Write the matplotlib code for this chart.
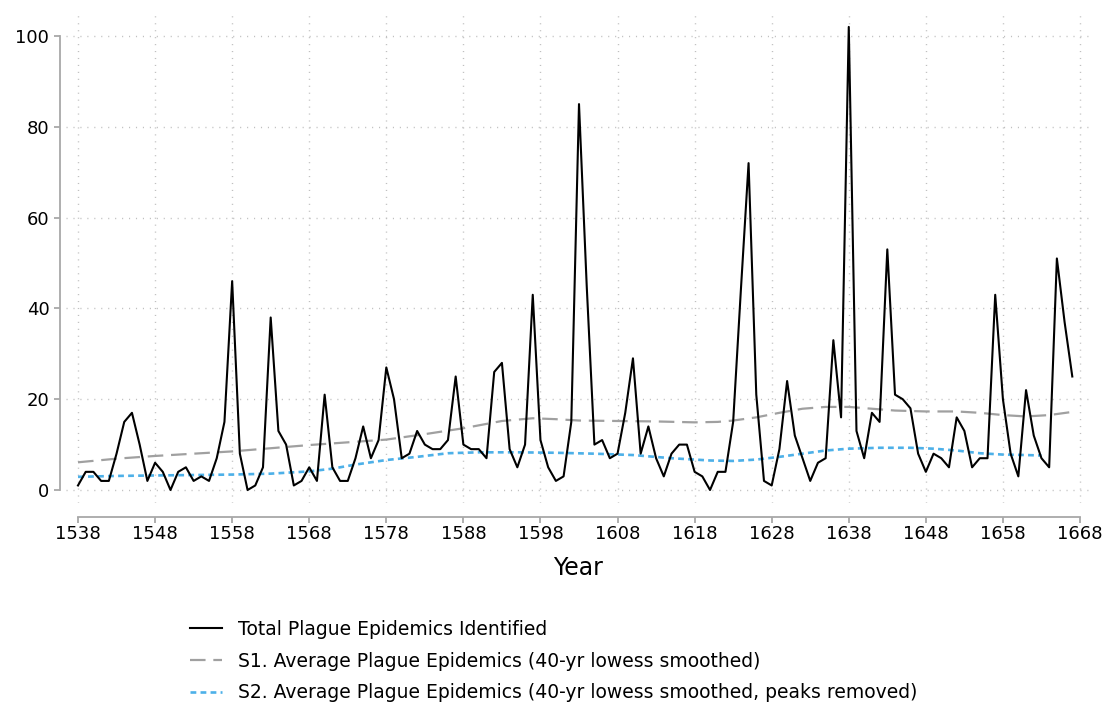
import numpy as np
import matplotlib
matplotlib.use('Agg')
import matplotlib.pyplot as plt

plt.rcParams['font.family'] = ['DejaVu Sans']

# ---- data ----
years = np.arange(1538, 1668)
total = [1, 4, 4, 2, 2, 8, 15, 17, 10, 2,
         6, 4, 0, 4, 5, 2, 3, 2, 7, 15,
         46, 8, 0, 1, 5, 38, 13, 10, 1, 2,
         5, 2, 21, 5, 2, 2, 7, 14, 7, 11,
         27, 20, 7, 8, 13, 10, 9, 9, 11, 25,
         10, 9, 9, 7, 26, 28, 9, 5, 10, 43,
         11, 5, 2, 3, 15, 85, 45, 10, 11, 7,
         8, 17, 29, 8, 14, 7, 3, 8, 10, 10,
         4, 3, 0, 4, 4, 15, 44, 72, 21, 2,
         1, 9, 24, 12, 7, 2, 6, 7, 33, 16,
         102, 13, 7, 17, 15, 53, 21, 20, 18, 8,
         4, 8, 7, 5, 16, 13, 5, 7, 7, 43,
         20, 8, 3, 22, 12, 7, 5, 51, 37, 25]

s1_years = [1538, 1543, 1548, 1553, 1558, 1563, 1568, 1573, 1578, 1583,
            1588, 1593, 1597, 1600, 1603, 1608, 1613, 1618, 1621, 1623,
            1626, 1629, 1632, 1635, 1638, 1641, 1644, 1648, 1652, 1655,
            1658, 1661, 1664, 1667]
s1 = [6.1, 6.9, 7.5, 8.0, 8.5, 9.2, 9.9, 10.5, 11.1, 12.3,
      13.6, 15.2, 15.8, 15.6, 15.3, 15.2, 15.1, 14.9, 15.0, 15.3,
      16.0, 17.0, 17.9, 18.3, 18.3, 17.9, 17.5, 17.3, 17.3, 17.0,
      16.5, 16.2, 16.5, 17.2]

s2_years = [1538, 1543, 1548, 1553, 1558, 1563, 1568, 1571, 1574, 1578,
            1582, 1586, 1590, 1595, 1600, 1605, 1610, 1615, 1620, 1623,
            1626, 1629, 1632, 1635, 1638, 1642, 1646, 1649, 1652, 1655,
            1658, 1661, 1663]
s2 = [2.9, 3.1, 3.2, 3.3, 3.4, 3.6, 4.1, 4.7, 5.6, 6.6,
      7.3, 8.1, 8.3, 8.3, 8.2, 8.0, 7.7, 7.0, 6.5, 6.4,
      6.7, 7.3, 8.0, 8.7, 9.1, 9.3, 9.3, 9.1, 8.7, 8.1,
      7.8, 7.7, 7.6]

x_ticks = list(range(1538, 1669, 10))
y_ticks = [0, 20, 40, 60, 80, 100]

labels = ['Total Plague Epidemics Identified',
          'S1. Average Plague Epidemics (40-yr lowess smoothed)',
          'S2. Average Plague Epidemics (40-yr lowess smoothed, peaks removed)']

# ---- figure ----
W, H = 1110, 704
fig = plt.figure(figsize=(W / 100, H / 100), dpi=100)
ax = fig.add_axes([66 / W, 1 - 503 / H, 1024 / W, 491 / H])

spine_col = '#a8a8a8'
l_s1, = ax.plot(s1_years, s1, color='#a0a0a0', lw=1.6, dashes=(7, 3.5), zorder=2)
l_s2, = ax.plot(s2_years, s2, color='#4db0e8', lw=1.9, dashes=(2.2, 1.6), zorder=2)
l_tot, = ax.plot(years, total, color='black', lw=1.5, zorder=3)

ax.set_xlim(1538 - 12 / 7.708, 1668 + 10 / 7.708)
ax.set_ylim(-13 / 4.54, 100 + 24 / 4.54)
ax.set_xticks(x_ticks)
ax.set_yticks(y_ticks)

ax.grid(True, color='#c0c0c0', linestyle=(0, (0.8, 4.2)), linewidth=1.0)
ax.set_axisbelow(True)

for s in ['top', 'right']:
    ax.spines[s].set_visible(False)
ax.spines['left'].set_position(('outward', 4))
ax.spines['bottom'].set_position(('outward', 10))
ax.spines['left'].set_bounds(0, 100)
ax.spines['bottom'].set_bounds(1538, 1668)
for s in ['left', 'bottom']:
    ax.spines[s].set_color(spine_col)
    ax.spines[s].set_linewidth(1.3)

ax.tick_params(axis='both', colors=spine_col, labelcolor='black',
               labelsize=13, length=4, width=1.3)
ax.tick_params(axis='x', pad=2)
ax.tick_params(axis='y', pad=4)
ax.set_xlabel('Year', fontsize=17, labelpad=9)

fig.legend(handles=[l_tot, l_s1, l_s2], labels=labels,
           loc='upper left', bbox_to_anchor=(190 / W, 1 - 620 / H),
           frameon=False, fontsize=13.5, handlelength=1.7,
           handletextpad=0.85, labelspacing=0.68, borderaxespad=0,
           borderpad=0)

fig.savefig('out.png', dpi=100)
